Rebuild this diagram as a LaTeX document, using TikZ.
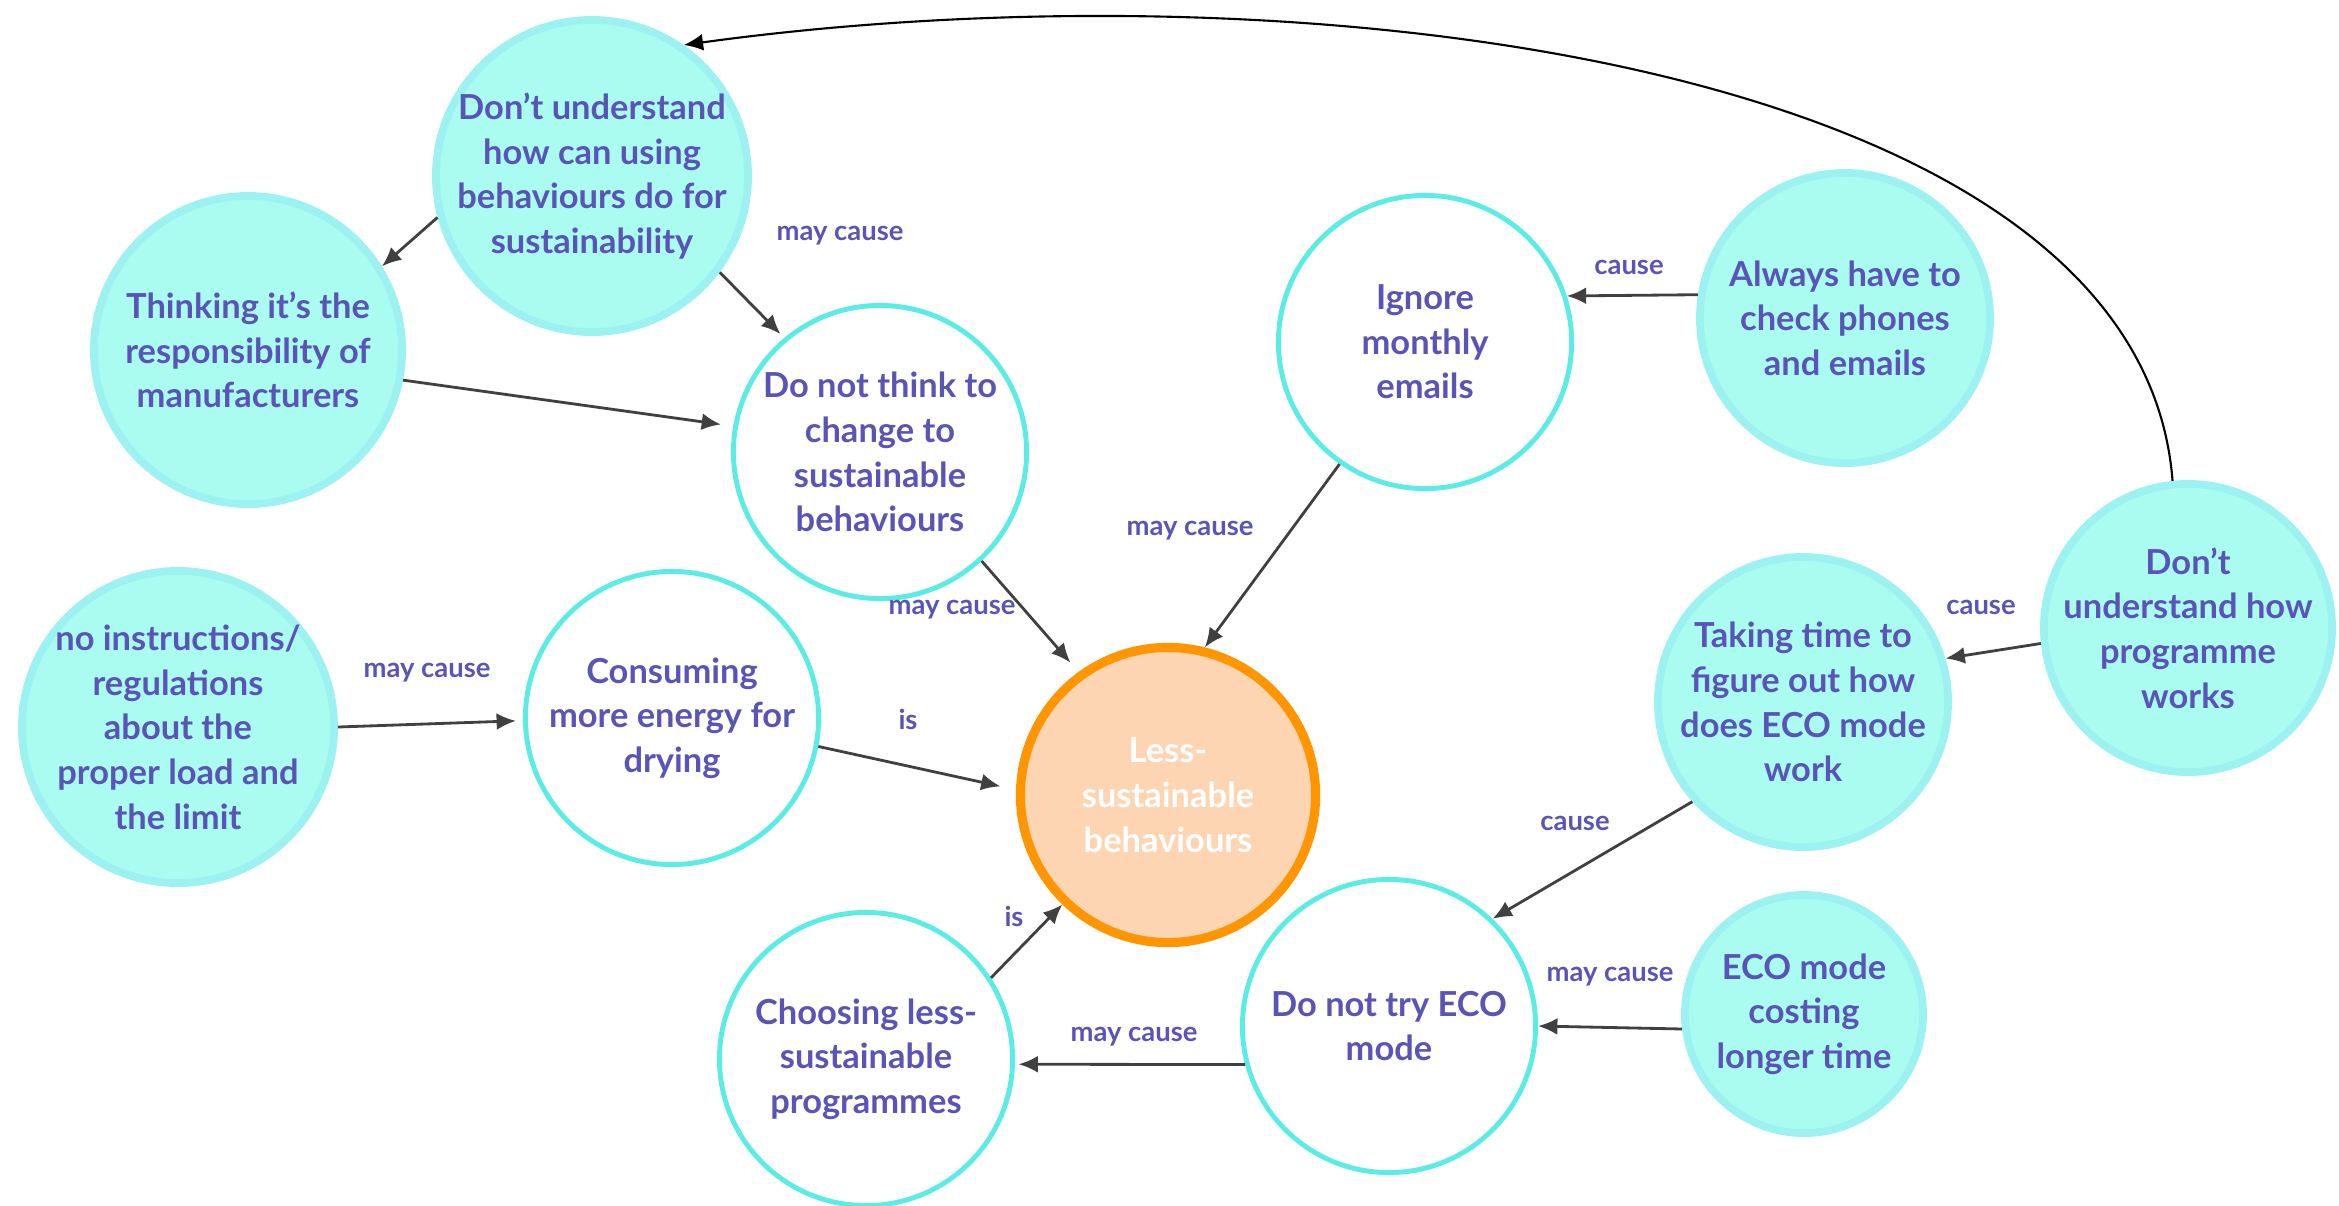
\documentclass[tikz,border=0pt]{standalone}
\usepackage{fontspec}
\setmainfont{Lato}
\usetikzlibrary{arrows.meta}

\definecolor{txtpurple}{RGB}{90,84,182}
\definecolor{aquafill}{RGB}{170,252,240}
\definecolor{aquaedge}{RGB}{155,242,240}
\definecolor{cyanedge}{RGB}{92,236,230}
\definecolor{orangeedge}{RGB}{255,149,0}
\definecolor{orangefill}{RGB}{253,213,179}
\definecolor{linkgray}{RGB}{64,64,64}

\tikzset{
	bubble/.style={circle, align=center, inner sep=-8mm, text=txtpurple, font=\fontsize{9.8}{12.7}\selectfont\bfseries},
	filledbubble/.style={bubble, fill=aquafill, draw=aquaedge, line width=2.2pt},
	openbubble/.style={bubble, fill=white, draw=cyanedge, line width=1.4pt, minimum size=2.93cm},
	corebubble/.style={bubble, fill=orangefill, draw=orangeedge, line width=2.6pt, minimum size=2.95cm, text=white},
	linktext/.style={text=txtpurple, font=\fontsize{7.8}{9}\selectfont\bfseries},
	link/.style={draw=linkgray, line width=0.8pt, -{Latex[length=5.5pt,width=4.8pt]}},
}

\begin{document}
\begin{tikzpicture}[x=0.01cm,y=-0.01cm]
		\useasboundingbox (0,0) rectangle (2339,1205);
		
		% causes and effects
		\node[filledbubble, minimum size=3.12cm] (usebehav) at (592,176) {Don’t understand\\how can using\\behaviours do for\\sustainability};
		\node[filledbubble, minimum size=3.08cm] (makers) at (248,350) {Thinking it’s the\\responsibility of\\manufacturers};
		\node[openbubble] (nochange) at (880,452) {Do not think to\\change to\\sustainable\\behaviours};
		\node[openbubble] (ignore) at (1425,342) {Ignore\\monthly\\emails};
		\node[filledbubble, minimum size=2.90cm] (phones) at (1845,318) {Always have to\\check phones\\and emails};
		\node[filledbubble, minimum size=2.88cm] (howworks) at (2188,628) {Don’t\\understand how\\programme\\works};
		\node[filledbubble, minimum size=2.90cm] (figureout) at (1803,702) {Taking time to\\figure out how\\does ECO mode\\work};
		\node[corebubble] (core) at (1168,795) {Less-\\sustainable\\behaviours};
		\node[openbubble] (drying) at (672,718) {Consuming\\more energy for\\drying};
		\node[filledbubble, minimum size=3.12cm] (noinstr) at (178,727) {no instructions/\\regulations\\about the\\proper load and\\the limit};
		\node[openbubble] (lessprog) at (866,1059) {Choosing less-\\sustainable\\programmes};
		\node[openbubble] (notry) at (1389,1026) {Do not try ECO\\mode};
		\node[filledbubble, minimum size=2.38cm] (longer) at (1804,1014) {ECO mode\\costing\\longer time};
		
		% connectors
		\draw[link] (usebehav.195) -- (makers.32);
		\draw[link, shorten >=1.5pt] (usebehav.-37) -- (nochange.130);
		\draw[link, shorten >=3.5pt] (makers.-11) -- (nochange.170);
		\draw[link, shorten >=3.5pt] (nochange.-47) -- (core.126);
		\draw[link] (ignore.235) -- (core.76);
		\draw[link] (phones.171) -- (ignore.18);
		\draw[link] (howworks.186) -- (figureout.17);
		\draw[link] (figureout.222) -- (notry.46);
		\draw[link] (longer.187) -- (notry.0);
		\draw[link, shorten >=1pt] (notry.195) -- (lessprog.-2);
		\draw[link] (lessprog.33) -- (core.226);
		\draw[link, shorten >=4.5pt] (drying.-11) -- (core.178);
		\draw[link, shorten >=2pt] (noinstr.0) -- (drying.181);
		\draw[black, line width=0.6pt, -{Latex[length=5.5pt,width=4.8pt]}] (howworks.96) .. controls (2140,60) and (1300,-40) .. (usebehav.55);
		
		% connector labels
		\node[linktext] (mc1) at (840,236) {may cause};
		\node[linktext] (mc2) at (952,610) {may cause};
		\node[linktext] (mc3) at (1190,531) {may cause};
		\node[linktext] (c1) at (1629,267) {cause};
		\node[linktext] (c2) at (1981,607) {cause};
		\node[linktext] (c3) at (1575,823) {cause};
		\node[linktext] (mc4) at (1610,977) {may cause};
		\node[linktext] (mc5) at (1134,1037) {may cause};
		\node[linktext] (is1) at (1014,916) {is};
		\node[linktext] (is2) at (908,719) {is};
		\node[linktext] (mc6) at (427,673) {may cause};
	\end{tikzpicture}
\end{document}
